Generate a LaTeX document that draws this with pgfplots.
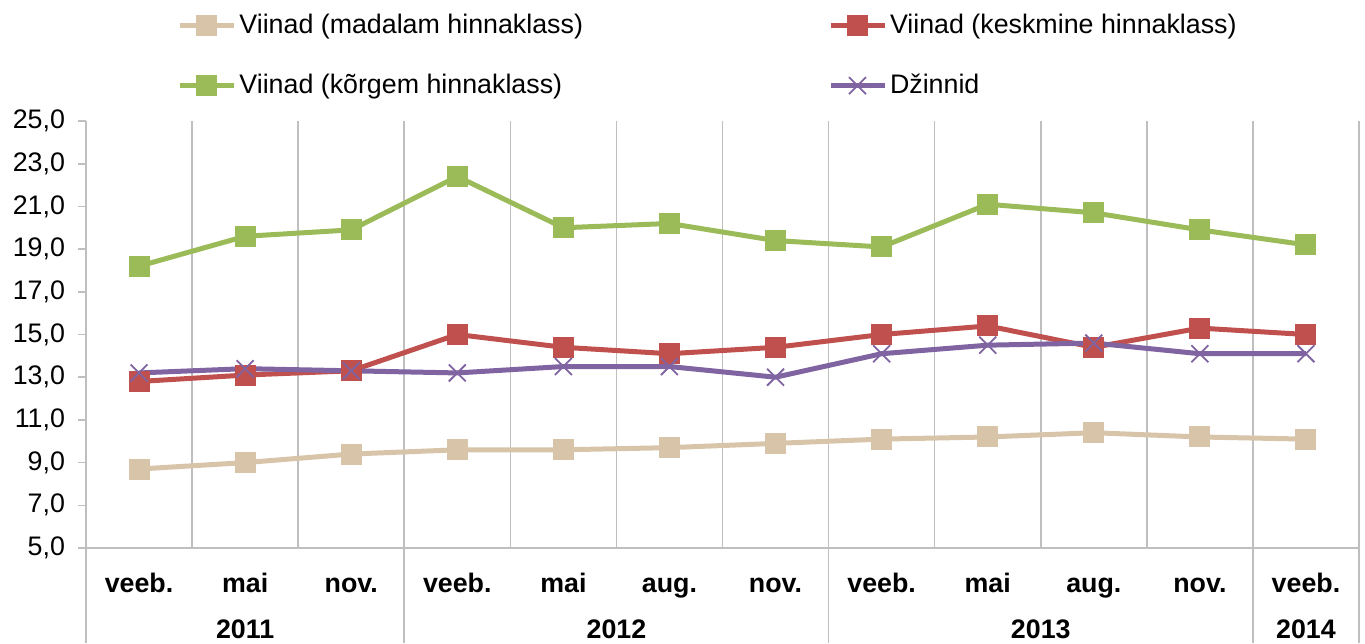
\documentclass[border=0pt]{standalone}
\usepackage{pgfplots}
\pgfplotsset{compat=1.18}
\usepackage{fontspec}
\setmainfont{Liberation Sans}
\definecolor{beigec}{RGB}{215,196,169}
\definecolor{redc}{RGB}{192,80,77}
\definecolor{greenc}{RGB}{155,187,89}
\definecolor{purplec}{RGB}{128,100,162}
\definecolor{gridc}{RGB}{191,191,191}
\newcommand{\lblfont}{\fontsize{13.4}{16}\selectfont}
\begin{document}
\begin{tikzpicture}
\useasboundingbox (0,0) rectangle (682.5pt,321.5pt);
\begin{axis}[
  at={(43pt,47.5pt)}, anchor=south west,
  scale only axis, width=636.5pt, height=213.5pt,
  xmin=-0.5, xmax=11.5, ymin=5, ymax=25,
  clip=false,
  axis x line*=bottom, axis y line*=left,
  axis line style={draw=gridc, line width=0.8pt, -},
  xtick={0,...,11},
  xticklabels={veeb.,mai,nov.,veeb.,mai,aug.,nov.,veeb.,mai,aug.,nov.,veeb.},
  x tick style={draw=none},
  xticklabel style={font=\lblfont\bfseries, anchor=base, yshift=-18pt},
  minor xtick={-0.5,0.5,...,11.5},
  minor tick length=0pt,
  xminorgrids=true,
  minor grid style={draw=gridc, line width=0.8pt},
  ytick={5,7,...,25},
  y tick style={draw=gridc, line width=0.8pt},
  tick align=outside, major tick length=4pt,
  yticklabel style={font=\lblfont, xshift=-3pt,
    /pgf/number format/fixed, /pgf/number format/fixed zerofill,
    /pgf/number format/precision=1, /pgf/number format/use comma,
    /pgf/number format/assume math mode=true},
  legend columns=2,
  legend cell align=left,
  legend style={at={(0.0715,1.261)}, anchor=north west, draw=none, fill=none,
    font=\lblfont, inner sep=0pt, row sep=15pt,
    nodes={inner xsep=1.5pt},
    /tikz/every even column/.append style={column sep=121pt}},
  legend image code/.code={\draw[mark repeat=2,mark phase=2,#1] plot coordinates {(0pt,0pt) (13.5pt,0pt) (27pt,0pt)};},
  every axis plot/.append style={line width=2.5pt},
]
\addplot[color=beigec, mark=square*, mark size=5pt, mark options={line width=0pt}] coordinates {
(0,8.7) (1,9.0) (2,9.4) (3,9.6) (4,9.6) (5,9.7) (6,9.9) (7,10.1) (8,10.2) (9,10.4) (10,10.2) (11,10.1)};
\addlegendentry{Viinad (madalam hinnaklass)}
\addplot[color=redc, mark=square*, mark size=5pt, mark options={line width=0pt}] coordinates {
(0,12.8) (1,13.1) (2,13.3) (3,15.0) (4,14.4) (5,14.1) (6,14.4) (7,15.0) (8,15.4) (9,14.4) (10,15.3) (11,15.0)};
\addlegendentry{Viinad (keskmine hinnaklass)}
\addplot[color=greenc, mark=square*, mark size=5pt, mark options={line width=0pt}] coordinates {
(0,18.2) (1,19.6) (2,19.9) (3,22.4) (4,20.0) (5,20.2) (6,19.4) (7,19.1) (8,21.1) (9,20.7) (10,19.9) (11,19.2)};
\addlegendentry{Viinad (kõrgem hinnaklass)}
\addplot[color=purplec, mark=x, mark size=6pt, mark options={line width=0.9pt}] coordinates {
(0,13.2) (1,13.4) (2,13.3) (3,13.2) (4,13.5) (5,13.5) (6,13.0) (7,14.1) (8,14.5) (9,14.6) (10,14.1) (11,14.1)};
\addlegendentry{Džinnid}
\draw[gridc, line width=0.8pt] (axis cs:-0.5,5) -- ++(0pt,-47.5pt);
\draw[gridc, line width=0.8pt] (axis cs:2.5,5) -- ++(0pt,-47.5pt);
\draw[gridc, line width=0.8pt] (axis cs:6.5,5) -- ++(0pt,-47.5pt);
\draw[gridc, line width=0.8pt] (axis cs:10.5,5) -- ++(0pt,-47.5pt);
\draw[gridc, line width=0.8pt] (axis cs:11.5,5) -- ++(0pt,-47.5pt);
\node[anchor=base, yshift=-45pt, font=\lblfont\bfseries] at (axis cs:1,5) {2011};
\node[anchor=base, yshift=-45pt, font=\lblfont\bfseries] at (axis cs:4.5,5) {2012};
\node[anchor=base, yshift=-45pt, font=\lblfont\bfseries] at (axis cs:8.5,5) {2013};
\node[anchor=base, yshift=-45pt, font=\lblfont\bfseries] at (axis cs:11,5) {2014};
\end{axis}
\end{tikzpicture}
\end{document}
